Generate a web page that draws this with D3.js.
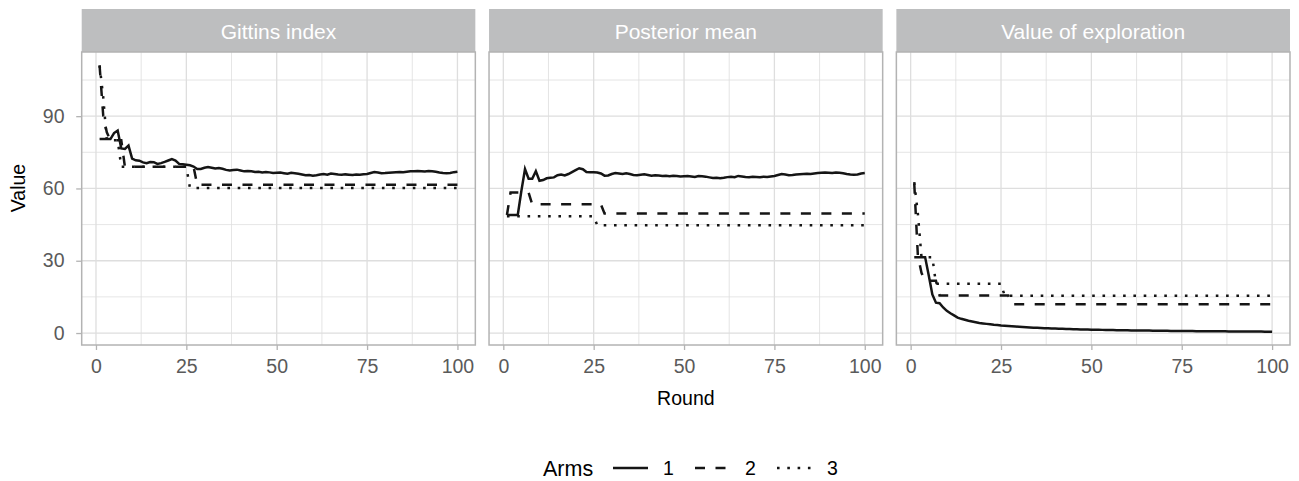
<!DOCTYPE html>
<html>
<head>
<meta charset="utf-8">
<script src="https://cdn.jsdelivr.net/npm/d3@7"></script>
<style>
  body { margin: 0; background: white; }
  text { font-family: "Liberation Sans", Arial, Helvetica, sans-serif; }
</style>
</head>
<body>
<div id="chart-area"></div>
<script>
// Gittins index = posterior mean + value of exploration, per arm and round

const panels = ['Gittins index', 'Posterior mean', 'Value of exploration'];
const arms = ['1', '2', '3'];
const rounds = d3.range(1, 101);
const xTicks = [0, 25, 50, 75, 100];
const yTicks = [0, 30, 60, 90];

const posteriorMean1 = [
  49, 49, 49, 49, 59, 68, 64, 64, 67.2, 63.2, 63.5, 64.2, 64.4, 64.6, 65.5, 65.8, 65.4, 66.0, 66.8, 67.6,
  68.4, 68.0, 66.8, 66.7, 66.7, 66.6, 66.2, 65.3, 65.4, 66.0, 66.4, 66.2, 66.0, 66.3, 66.0, 65.6, 65.5, 65.7, 65.9, 65.6,
  65.3, 65.5, 65.4, 65.2, 65.3, 65.1, 65.3, 65.2, 65.0, 65.1, 65.2, 65.0, 64.8, 65.2, 65.1, 64.9, 64.6, 64.3, 64.4, 64.2,
  64.4, 64.7, 64.9, 64.7, 65.2, 65.0, 64.8, 64.7, 64.9, 64.8, 64.7, 64.9, 64.8, 65.0, 65.2, 65.6, 66.0, 65.8, 65.5, 65.6,
  65.8, 65.9, 66.0, 66.1, 66.0, 66.2, 66.4, 66.5, 66.6, 66.5, 66.4, 66.6, 66.5, 66.3, 66.0, 65.8, 65.7, 65.8, 66.2, 66.4
];
const posteriorMean2 = [
  49, 58.3, 58.3, 58.3, 58.3, 58.3, 58.3, 53.4, 53.4, 53.4, 53.4, 53.4, 53.4, 53.4, 53.4, 53.4, 53.4, 53.4, 53.4, 53.4,
  53.4, 53.4, 53.4, 53.4, 53.4, 53.4, 53.4, 49.6, 49.6, 49.6, 49.6, 49.6, 49.6, 49.6, 49.6, 49.6, 49.6, 49.6, 49.6, 49.6,
  49.6, 49.6, 49.6, 49.6, 49.6, 49.6, 49.6, 49.6, 49.6, 49.6, 49.6, 49.6, 49.6, 49.6, 49.6, 49.6, 49.6, 49.6, 49.6, 49.6,
  49.6, 49.6, 49.6, 49.6, 49.6, 49.6, 49.6, 49.6, 49.6, 49.6, 49.6, 49.6, 49.6, 49.6, 49.6, 49.6, 49.6, 49.6, 49.6, 49.6,
  49.6, 49.6, 49.6, 49.6, 49.6, 49.6, 49.6, 49.6, 49.6, 49.6, 49.6, 49.6, 49.6, 49.6, 49.6, 49.6, 49.6, 49.6, 49.6, 49.6
];
const posteriorMean3 = [
  48.5, 48.5, 48.5, 48.5, 48.5, 48.5, 48.5, 48.5, 48.5, 48.5, 48.5, 48.5, 48.5, 48.5, 48.5, 48.5, 48.5, 48.5, 48.5, 48.5,
  48.5, 48.5, 48.5, 48.5, 48.5, 44.7, 44.7, 44.7, 44.7, 44.7, 44.7, 44.7, 44.7, 44.7, 44.7, 44.7, 44.7, 44.7, 44.7, 44.7,
  44.7, 44.7, 44.7, 44.7, 44.7, 44.7, 44.7, 44.7, 44.7, 44.7, 44.7, 44.7, 44.7, 44.7, 44.7, 44.7, 44.7, 44.7, 44.7, 44.7,
  44.7, 44.7, 44.7, 44.7, 44.7, 44.7, 44.7, 44.7, 44.7, 44.7, 44.7, 44.7, 44.7, 44.7, 44.7, 44.7, 44.7, 44.7, 44.7, 44.7,
  44.7, 44.7, 44.7, 44.7, 44.7, 44.7, 44.7, 44.7, 44.7, 44.7, 44.7, 44.7, 44.7, 44.7, 44.7, 44.7, 44.7, 44.7, 44.7, 44.7
];

const exploration1 = [
  31.5, 31.5, 31.5, 31.5, 24, 16, 12.6, 12.4, 10.6, 9.2, 8.2, 7.3, 6.4, 5.9, 5.5, 5.1, 4.8, 4.5, 4.2, 4.0,
  3.8, 3.6, 3.4, 3.3, 3.1, 3.0, 2.9, 2.8, 2.7, 2.6, 2.5, 2.4, 2.3, 2.2, 2.15, 2.1, 2.0, 1.95, 1.9, 1.85,
  1.8, 1.75, 1.7, 1.65, 1.6, 1.55, 1.5, 1.47, 1.44, 1.4, 1.37, 1.34, 1.31, 1.28, 1.25, 1.22, 1.2, 1.17, 1.15, 1.12,
  1.1, 1.08, 1.06, 1.04, 1.02, 1.0, 0.98, 0.96, 0.94, 0.92, 0.9, 0.89, 0.87, 0.86, 0.84, 0.83, 0.81, 0.8, 0.78, 0.77,
  0.76, 0.74, 0.73, 0.72, 0.71, 0.7, 0.69, 0.68, 0.67, 0.66, 0.65, 0.64, 0.63, 0.62, 0.61, 0.6, 0.59, 0.58, 0.57, 0.56
];
const exploration2 = [
  62, 32, 25, 21.7, 21.7, 21.7, 21.7, 15.6, 15.6, 15.6, 15.6, 15.6, 15.6, 15.6, 15.6, 15.6, 15.6, 15.6, 15.6, 15.6,
  15.6, 15.6, 15.6, 15.6, 15.6, 15.6, 15.6, 11.9, 11.9, 11.9, 11.9, 11.9, 11.9, 11.9, 11.9, 11.9, 11.9, 11.9, 11.9, 11.9,
  11.9, 11.9, 11.9, 11.9, 11.9, 11.9, 11.9, 11.9, 11.9, 11.9, 11.9, 11.9, 11.9, 11.9, 11.9, 11.9, 11.9, 11.9, 11.9, 11.9,
  11.9, 11.9, 11.9, 11.9, 11.9, 11.9, 11.9, 11.9, 11.9, 11.9, 11.9, 11.9, 11.9, 11.9, 11.9, 11.9, 11.9, 11.9, 11.9, 11.9,
  11.9, 11.9, 11.9, 11.9, 11.9, 11.9, 11.9, 11.9, 11.9, 11.9, 11.9, 11.9, 11.9, 11.9, 11.9, 11.9, 11.9, 11.9, 11.9, 11.9
];
const exploration3 = [
  62.6, 49.5, 31.5, 31.5, 31.5, 31.5, 20.5, 20.5, 20.5, 20.5, 20.5, 20.5, 20.5, 20.5, 20.5, 20.5, 20.5, 20.5, 20.5, 20.5,
  20.5, 20.5, 20.5, 20.5, 20.5, 15.5, 15.5, 15.5, 15.5, 15.5, 15.5, 15.5, 15.5, 15.5, 15.5, 15.5, 15.5, 15.5, 15.5, 15.5,
  15.5, 15.5, 15.5, 15.5, 15.5, 15.5, 15.5, 15.5, 15.5, 15.5, 15.5, 15.5, 15.5, 15.5, 15.5, 15.5, 15.5, 15.5, 15.5, 15.5,
  15.5, 15.5, 15.5, 15.5, 15.5, 15.5, 15.5, 15.5, 15.5, 15.5, 15.5, 15.5, 15.5, 15.5, 15.5, 15.5, 15.5, 15.5, 15.5, 15.5,
  15.5, 15.5, 15.5, 15.5, 15.5, 15.5, 15.5, 15.5, 15.5, 15.5, 15.5, 15.5, 15.5, 15.5, 15.5, 15.5, 15.5, 15.5, 15.5, 15.5
];

const posteriorMeans = [posteriorMean1, posteriorMean2, posteriorMean3];
const explorations = [exploration1, exploration2, exploration3];
const gittins = posteriorMeans.map((pm, a) => pm.map((v, i) => v + explorations[a][i]));
const panelSeries = [gittins, posteriorMeans, explorations];

// Layout
const width = 1299;
const height = 481;
const margin = { left: 81.7, right: 9, top: 9 };
const stripHeight = 43;
const panelGap = 13.7;
const panelTop = margin.top + stripHeight;
const panelBottom = 345;
const panelWidth = (width - margin.left - margin.right - 2 * panelGap) / 3;

const dashes = { '1': null, '2': '10,10.5', '3': '2.6,7.7' };
const fontSize = 19.5;
const tickColor = '#5a5a5a';
const gridColor = '#dedede';
const borderColor = '#b3b3b3';

const svg = d3.select('#chart-area')
    .append('svg')
    .attr('width', width)
    .attr('height', height)
    .attr('style', 'background-color: white');

// Scales (ggplot style 5% expansion)
const x = d3.scaleLinear()
    .domain([1 - 0.05 * 99, 100 + 0.05 * 99])
    .range([0, panelWidth]);

const allValues = panelSeries.flat(2);
const [yMin, yMax] = d3.extent(allValues);
const yPad = (yMax - yMin) * 0.05;
const y = d3.scaleLinear()
    .domain([yMin - yPad, yMax + yPad])
    .range([panelBottom, panelTop]);

const line = d3.line()
    .x((d, i) => x(rounds[i]))
    .y((d) => y(d));

panels.forEach((title, p) => {
    const left = margin.left + p * (panelWidth + panelGap);
    const g = svg.append('g').attr('transform', `translate(${left}, 0)`);

    // Strip
    g.append('rect')
        .attr('x', 0).attr('y', margin.top)
        .attr('width', panelWidth).attr('height', stripHeight)
        .attr('fill', '#bdbebf');
    g.append('text')
        .attr('x', panelWidth / 2)
        .attr('y', margin.top + 29.5)
        .attr('text-anchor', 'middle')
        .attr('fill', 'white')
        .attr('font-size', '21px')
        .text(title);

    // Grid
    const xMinor = [12.5, 37.5, 62.5, 87.5];
    const yMinor = [15, 45, 75, 105];
    g.selectAll('.x-minor').data(xMinor).enter().append('line')
        .attr('x1', (d) => x(d)).attr('x2', (d) => x(d))
        .attr('y1', panelTop).attr('y2', panelBottom)
        .attr('stroke', gridColor).attr('stroke-width', 0.8);
    g.selectAll('.y-minor').data(yMinor).enter().append('line')
        .attr('x1', 0).attr('x2', panelWidth)
        .attr('y1', (d) => y(d)).attr('y2', (d) => y(d))
        .attr('stroke', gridColor).attr('stroke-width', 0.8);
    g.selectAll('.x-major').data(xTicks).enter().append('line')
        .attr('x1', (d) => x(d)).attr('x2', (d) => x(d))
        .attr('y1', panelTop).attr('y2', panelBottom)
        .attr('stroke', gridColor).attr('stroke-width', 1.3);
    g.selectAll('.y-major').data(yTicks).enter().append('line')
        .attr('x1', 0).attr('x2', panelWidth)
        .attr('y1', (d) => y(d)).attr('y2', (d) => y(d))
        .attr('stroke', gridColor).attr('stroke-width', 1.3);

    // Lines
    const clipId = `clip-${p}`;
    g.append('clipPath').attr('id', clipId)
        .append('rect')
        .attr('x', 0).attr('y', panelTop)
        .attr('width', panelWidth).attr('height', panelBottom - panelTop);
    g.append('g')
        .attr('clip-path', `url(#${clipId})`)
        .selectAll('path')
        .data(panelSeries[p])
        .enter()
        .append('path')
        .attr('d', line)
        .attr('fill', 'none')
        .attr('stroke', '#151515')
        .attr('stroke-width', 2.5)
        .attr('stroke-dasharray', (d, i) => dashes[arms[i]]);

    // Border
    g.append('rect')
        .attr('x', 0).attr('y', panelTop)
        .attr('width', panelWidth).attr('height', panelBottom - panelTop)
        .attr('fill', 'none')
        .attr('stroke', borderColor)
        .attr('stroke-width', 1.5);

    // X axis
    const xAxis = g.append('g')
        .attr('transform', `translate(0, ${panelBottom})`)
        .call(d3.axisBottom(x).tickValues(xTicks).tickSize(5).tickPadding(9));
    xAxis.select('.domain').remove();
    xAxis.selectAll('line').attr('stroke', borderColor).attr('stroke-width', 1.3);
    xAxis.selectAll('text')
        .attr('fill', tickColor)
        .attr('font-size', `${fontSize}px`)
        .attr('font-family', '"Liberation Sans", Arial, sans-serif');

    if (p === 0) {
        const yAxis = g.append('g')
            .call(d3.axisLeft(y).tickValues(yTicks).tickSize(5.5).tickPadding(11.7));
        yAxis.select('.domain').remove();
        yAxis.selectAll('line').attr('stroke', borderColor).attr('stroke-width', 1.3);
        yAxis.selectAll('text')
            .attr('fill', tickColor)
            .attr('font-size', `${fontSize}px`)
            .attr('font-family', '"Liberation Sans", Arial, sans-serif');
    }
});

// Axis titles
svg.append('text')
    .attr('transform', 'translate(25, 188) rotate(-90)')
    .attr('text-anchor', 'middle')
    .attr('font-size', `${fontSize}px`)
    .text('Value');

svg.append('text')
    .attr('x', (margin.left + width - margin.right) / 2)
    .attr('y', 405)
    .attr('text-anchor', 'middle')
    .attr('font-size', `${fontSize}px`)
    .text('Round');

// Legend
const legend = svg.append('g').attr('transform', 'translate(543, 468)');
legend.append('text')
    .attr('x', 0).attr('y', 7.5)
    .attr('font-size', '21.5px')
    .text('Arms');

arms.forEach((arm, i) => {
    const row = legend.append('g').attr('transform', `translate(${70 + i * 82}, 0)`);
    row.append('line')
        .attr('x1', 0).attr('x2', 35)
        .attr('y1', 0).attr('y2', 0)
        .attr('stroke', '#151515')
        .attr('stroke-width', 2.5)
        .attr('stroke-dasharray', dashes[arm]);
    row.append('text')
        .attr('x', 50).attr('y', 7)
        .attr('font-size', `${fontSize}px`)
        .text(arm);
});
</script>
</body>
</html>
